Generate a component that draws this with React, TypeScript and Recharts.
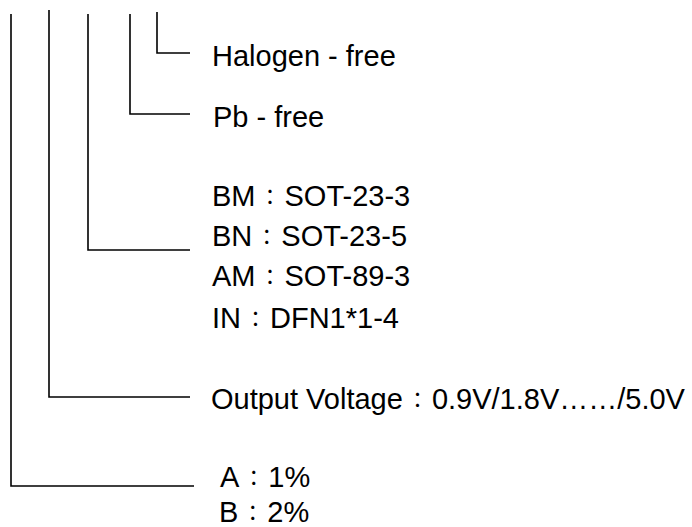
import React from "react";
import { ComposedChart, Line, Scatter, XAxis, YAxis } from "recharts";

const W = 692;
const H = 527;

// Ordering-code brackets (diagram units = px of the 692x527 canvas)
const stemX = [11, 49, 88, 130, 157];
const stemTop = [14, 10, 14, 14, 12];
const elbowY = [486, 397, 250, 114, 53];
const armEnd = [194, 190, 190, 190, 190];

const labelText = [
  "Halogen - free",
  "Pb - free",
  "BM：SOT-23-3",
  "BN：SOT-23-5",
  "AM：SOT-89-3",
  "IN：DFN1*1-4",
  "Output Voltage：0.9V/1.8V……/5.0V",
  "A：1%",
  "B：2%",
];
const labelX = [212, 213, 212, 212, 212, 212, 211, 220, 219];
const labelY = [66, 127, 206, 246, 286, 328, 409, 487, 522];

const brackets = stemX.map((x, i) => [
  { x, y: stemTop[i] },
  { x, y: elbowY[i] },
  { x: armEnd[i], y: elbowY[i] },
]);

const labels = labelText.map((label, i) => ({ x: labelX[i], y: labelY[i], label }));

const FONT = "'Liberation Sans', Arial, 'Noto Sans CJK TC', sans-serif";

const TextShape = (props: any) => {
  const { cx, cy, payload } = props;
  const parts = String(payload.label).split("：");
  return (
    <text x={cx} y={cy} fontFamily={FONT} fontSize={29} fill="#000">
      {parts.length === 1 ? (
        parts[0]
      ) : (
        <>
          <tspan>{parts[0]}</tspan>
          <tspan fontSize={21} dx={4} dy={-2}>：</tspan>
          <tspan dx={4} dy={2}>{parts.slice(1).join("：")}</tspan>
        </>
      )}
    </text>
  );
};

export default function App() {
  return (
    <div style={{ position: "absolute", left: 0, top: 0, width: W, height: H, background: "#fff" }}>
      <ComposedChart width={W} height={H} margin={{ top: 0, right: 0, bottom: 0, left: 0 }}>
        <XAxis type="number" dataKey="x" domain={[0, W]} hide allowDataOverflow />
        <YAxis type="number" dataKey="y" domain={[0, H]} reversed hide allowDataOverflow />
        {brackets.map((d, i) => (
          <Line
            key={i}
            data={d}
            dataKey="y"
            type="linear"
            stroke="#000"
            strokeWidth={1.6}
            dot={false}
            activeDot={false}
            isAnimationActive={false}
          />
        ))}
        <Scatter data={labels} dataKey="y" shape={TextShape} isAnimationActive={false} />
      </ComposedChart>
    </div>
  );
}
